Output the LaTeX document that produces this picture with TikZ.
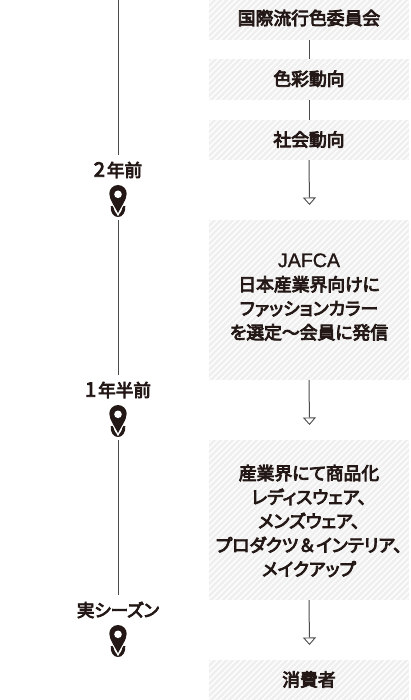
\documentclass[tikz,border=0pt]{standalone}
\usepackage{fontspec}
\setmainfont{Noto Sans CJK JP}[RawFeature=+palt]
\newfontfamily\medfont{Noto Sans CJK JP}[RawFeature=+palt,FakeBold=4.5]
\newfontfamily\latinfont{Liberation Sans}[FakeBold=1.2]
\usetikzlibrary{arrows.meta}
\definecolor{ink}{HTML}{231815}
\definecolor{wire}{HTML}{4A4A4A}
\definecolor{hatchbg}{HTML}{EFEFEF}
\tikzset{
  x=1pt,y=-1pt,
  boxtext/.style={font=\medfont\fontsize{17.8}{24}\selectfont,text=ink,align=center},
  hatchbox/.style={boxtext,minimum width=200pt,inner sep=0pt,fill=hatchbg,
    path picture={\foreach \k in {-170,-164,...,200}{
      \draw[white,line width=1.3pt] ([xshift=\k pt,yshift=-1pt]path picture bounding box.south west) -- ++(200pt,200pt);
    }}},
  stage/.style={font=\medfont\fontsize{17.6}{20}\selectfont,text=ink,minimum height=30pt,inner sep=0pt},
  pinspot/.style={minimum width=20pt,minimum height=40pt,inner sep=0pt},
  link/.style={draw=wire,line width=1pt},
  flow/.style={link,-{Triangle[open,fill=white,length=7.5pt,width=13pt,line width=.9pt]}},
}
\newcommand{\mappin}[1]{%
  \begin{scope}[shift={(#1)}]
  \draw[ink,line width=3.2pt] (-5.7,6) .. controls (-6.5,18.5) and (6.5,18.5) .. (5.7,6);
  \draw[white,line width=3pt] (-7,-1) .. controls (-4,5) and (-2,9) .. (0,13) .. controls (2,9) and (4,5) .. (7,-1);
  \fill[ink] (-8.7,-6.3)
    arc[start angle=180,end angle=360,radius=8.7]
    .. controls (8.7,-0.5) and (3,7) .. (0,13)
    .. controls (-3,7) and (-8.7,-0.5) .. cycle;
  \fill[white] (0,-5.7) circle[radius=3.8];
  \end{scope}
}
\newcommand{\bigdigit}[1]{{\fontsize{20}{20}\selectfont #1}\hspace{2pt}}
\begin{document}
\begin{tikzpicture}
\useasboundingbox (0,0) rectangle (410,700);
\clip (0,0) rectangle (410,700);
\node[hatchbox,minimum height=44pt] (b1) at (309,18) {\raisebox{1.5pt}{国際流行色委員会}};
\node[hatchbox,minimum height=41pt] (b2) at (309,79.5) {\raisebox{3pt}{色彩動向}};
\node[hatchbox,minimum height=40pt] (b3) at (309,140) {\raisebox{2.5pt}{社会動向}};
\node[hatchbox,minimum height=160pt] (b4) at (309,300) {};
\node[boxtext] at ([yshift=3pt]b4) {{\latinfont\fontsize{19.6}{24}\selectfont JAFCA}\\日本産業界向けに\\ファッションカラー\\を選定～会員に発信};
\node[hatchbox,minimum height=160pt] (b5) at (309,520) {};
\node[boxtext] at ([yshift=-1pt]b5) {産業界にて商品化\\レディスウェア、\\メンズウェア、\\プロダクツ\makebox[18pt]{＆}インテリア、\\メイクアップ};
\node[hatchbox,minimum height=40pt] (b6) at (309,680) {\raisebox{2.5pt}{消費者}};

\coordinate (t1) at (309.5,205);
\coordinate (t2) at (309.5,425);
\coordinate (t3) at (309.5,645);
\coordinate (top) at (118,0);

\draw[link] (b1.south) -- (b2.north);
\draw[link] (b2.south) -- (b3.north);
\draw[flow] (b3.south) -- (t1);
\draw[flow] (b4.south) -- (t2);
\draw[flow] (b5.south) -- (t3);

\node[stage] (s1) at (118,170) {\bigdigit{2}年前};
\node[stage] (s2) at (118,390) {\bigdigit{1}年半前};
\node[stage] (s3) at (118,610) {実シーズン};
\node[pinspot] (p1) at (118,200) {};
\node[pinspot] (p2) at (118,420) {};
\node[pinspot] (p3) at (118,640) {};
\mappin{p1.center}
\mappin{p2.center}
\mappin{p3.center}
\draw[link] (top) -- (s1.north);
\draw[link] (p1.south) -- (s2.north);
\draw[link] (p2.south) -- (s3.north);
\end{tikzpicture}
\end{document}
